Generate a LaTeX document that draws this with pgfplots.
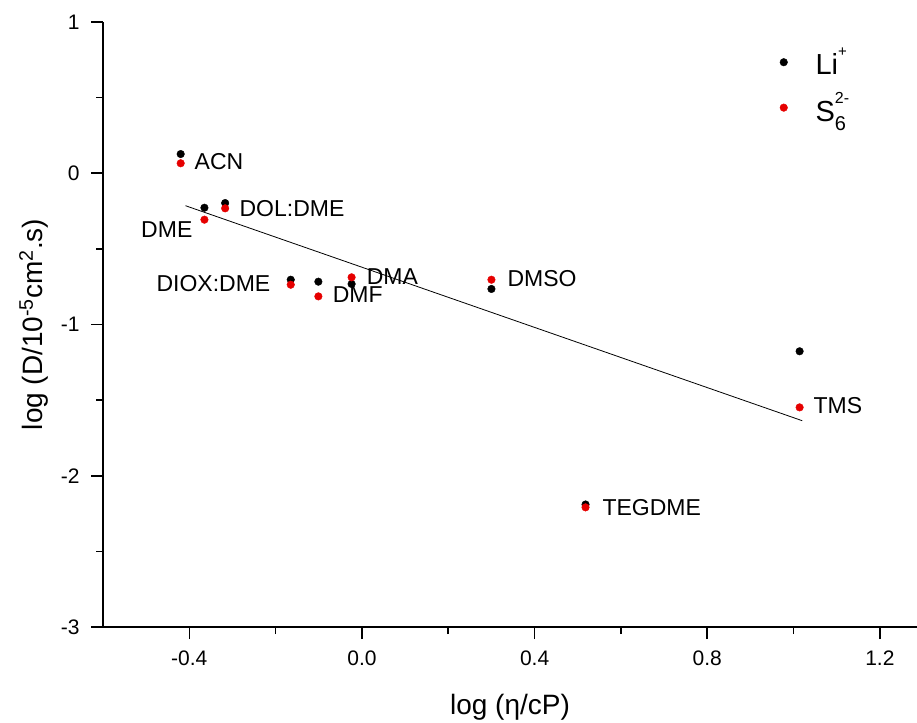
\documentclass[border=0pt]{standalone}
\usepackage{pgfplots}
\pgfplotsset{compat=1.18}
\usepackage{fontspec}
\setmainfont{Liberation Sans}
\definecolor{myred}{RGB}{230,0,0}
\newcommand{\lbl}{\fontsize{23}{23}\selectfont}
\begin{document}
\begin{tikzpicture}
\begin{axis}[
  width=814pt, height=605pt, scale only axis,
  xmin=-0.6, xmax=1.286, ymin=-3, ymax=1,
  axis x line=bottom, axis y line=left,
  axis line style={-, line width=2pt},
  xtick={-0.4,0,0.4,0.8,1.2}, minor xtick={-0.2,0.2,0.6,1.0},
  ytick={-3,-2,-1,0,1}, minor ytick={-2.5,-1.5,-0.5,0.5},
  tick align=outside, major tick length=12pt, minor tick length=7pt,
  tick style={black, line width=1.6pt},
  /pgf/number format/assume math mode=true,
  tick label style={font=\fontsize{21}{21}\selectfont},
  xticklabel style={yshift=-8pt, /pgf/number format/.cd, fixed, fixed zerofill, precision=1, /tikz/.cd},
  yticklabel style={xshift=-8pt, /pgf/number format/.cd, fixed, precision=0, /tikz/.cd},
  xlabel={log (η/cP)},
  ylabel={log (D/10\textsuperscript{-5}cm\textsuperscript{2}.s)},
  label style={font=\fontsize{28}{28}\selectfont},
  xlabel style={at={(axis description cs:0.5,-0.1438)}, anchor=base},
  ylabel style={at={(axis description cs:-0.0749,0.5)}, anchor=base},
  clip=false,
  legend style={at={(axis cs:0.968,0.835)}, anchor=north west, draw=none, fill=none,
    font=\fontsize{29}{29}\selectfont, row sep=14pt, inner sep=0pt,
    nodes={inner sep=1pt},
    /tikz/every odd column/.append style={column sep=27pt}},
  legend cell align=left,
]
\addplot[only marks, mark=*, mark size=3.8pt, black] coordinates {
  (-0.420,0.127) (-0.365,-0.228) (-0.317,-0.197) (-0.165,-0.704) (-0.101,-0.717)
  (-0.024,-0.732) (0.300,-0.765) (0.518,-2.19) (1.014,-1.177)};
\addlegendentry{Li\raisebox{18pt}{\fontsize{15}{15}\selectfont +}}
\addplot[only marks, mark=*, mark size=3.8pt, myred, mark options={fill=myred}] coordinates {
  (-0.420,0.066) (-0.365,-0.307) (-0.317,-0.232) (-0.165,-0.737) (-0.101,-0.814)
  (-0.024,-0.688) (0.300,-0.704) (0.518,-2.209) (1.014,-1.548)};
\addlegendentry{S\makebox[0pt][l]{\raisebox{18pt}{\fontsize{16}{16}\selectfont 2-}}\raisebox{-9pt}{\fontsize{20}{20}\selectfont 6}}
\addplot[black, line width=0.8pt, forget plot] coordinates {(-0.409,-0.2145) (1.020,-1.636)};
\node[anchor=west, inner sep=0pt, font=\lbl] at (axis cs:-0.388,0.074) {ACN};
\node[anchor=west, inner sep=0pt, font=\lbl] at (axis cs:-0.284,-0.231) {DOL:DME};
\node[anchor=east, inner sep=0pt, font=\lbl] at (axis cs:-0.3925,-0.373) {DME};
\node[anchor=east, inner sep=0pt, font=\lbl] at (axis cs:-0.212,-0.732) {DIOX:DME};
\node[anchor=west, inner sep=0pt, font=\lbl] at (axis cs:-0.068,-0.803) {DMF};
\node[anchor=west, inner sep=0pt, font=\lbl] at (axis cs:0.0107,-0.686) {DMA};
\node[anchor=west, inner sep=0pt, font=\lbl] at (axis cs:0.337,-0.699) {DMSO};
\node[anchor=west, inner sep=0pt, font=\lbl] at (axis cs:1.046,-1.539) {TMS};
\node[anchor=west, inner sep=0pt, font=\lbl] at (axis cs:0.557,-2.213) {TEGDME};
\end{axis}
\pgfresetboundingbox
\path[use as bounding box] ([xshift=-103pt,yshift=-95pt]current axis.south west) rectangle ([yshift=22pt]current axis.north east);
\end{tikzpicture}
\end{document}
